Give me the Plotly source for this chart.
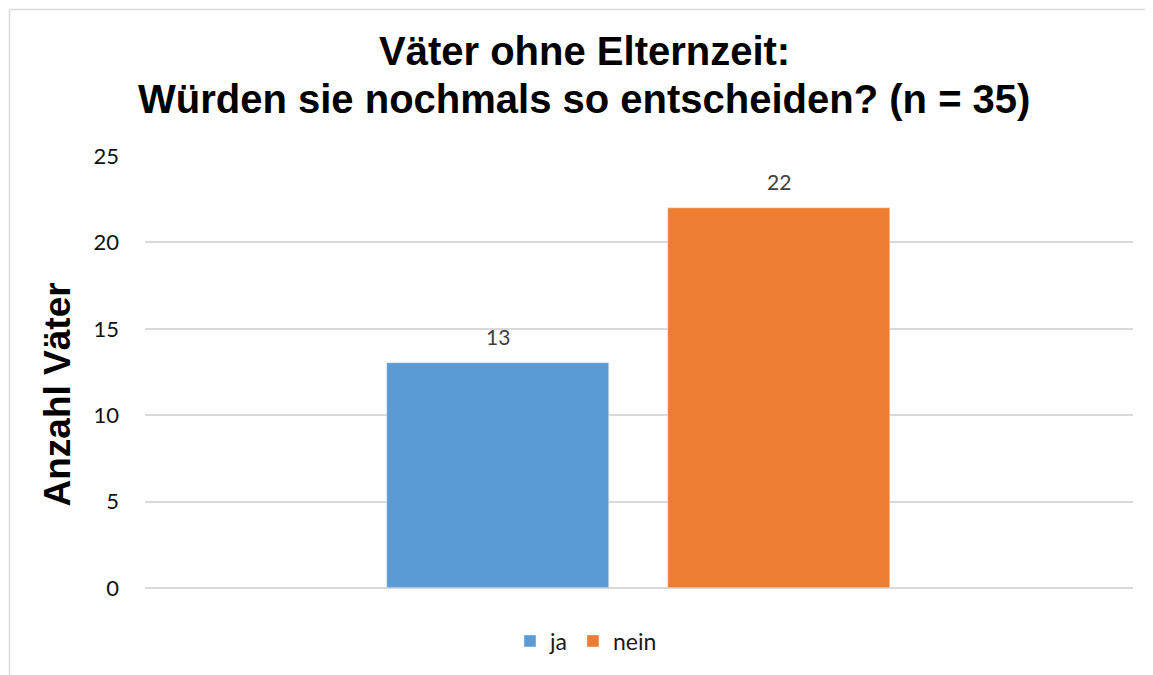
import plotly.graph_objects as go

categories = ["ja", "nein"]
values = [13, 22]
colors = ["#5B9BD5", "#ED7D31"]
title_lines = ["Väter ohne Elternzeit:", "Würden sie nochmals so entscheiden? (n = 35)"]
y_title = "Anzahl Väter"
y_ticks = [0, 5, 10, 15, 20, 25]

W, H = 1153, 675
OFF = 8  # browser body margin
# target plot area in page pixels: x 145..1133, y 156..588
ml = 145 - OFF
mt = 156 - OFF
pw, ph = 988, 432
mr = W - ml - pw
mb = H - mt - ph

def px_x(p):
    return (p - OFF - ml) / pw

def px_y(p):
    return (mt + ph - (p - OFF)) / ph

fig = go.Figure()
for i, (cat, val, col) in enumerate(zip(categories, values, colors)):
    fig.add_trace(go.Bar(x=[i], y=[val], name=cat, marker_color=col,
                         width=0.79, hoverinfo="skip"))
    fig.add_annotation(x=i, y=val, text=str(val), showarrow=False,
                       yanchor="bottom", yshift=12,
                       font=dict(family="Lato, Open Sans, sans-serif", size=21, color="#404040"))

for k, line in enumerate(title_lines):
    fig.add_annotation(xref="paper", yref="paper", x=px_x(584), y=px_y(51 + 48 * k),
                       text="<b>" + line + "</b>", showarrow=False,
                       xanchor="center", yanchor="middle",
                       font=dict(family="Liberation Sans, Arial, sans-serif", size=40, color="#000000"))

fig.add_annotation(xref="paper", yref="paper", x=px_x(57), y=px_y(394.5),
                   text="<b>" + y_title + "</b>", textangle=-90, showarrow=False,
                   xanchor="center", yanchor="middle",
                   font=dict(family="Liberation Sans, Arial, sans-serif", size=37, color="#000000"))

# chart-area border (only top and left edges fall inside the picture)
fig.add_shape(type="line", xref="paper", yref="paper",
              x0=px_x(9.5), x1=px_x(1300), y0=px_y(9.5), y1=px_y(9.5),
              line=dict(color="#D9D9D9", width=1.5), layer="below")
fig.add_shape(type="line", xref="paper", yref="paper",
              x0=px_x(9.5), x1=px_x(9.5), y0=px_y(9.5), y1=px_y(800),
              line=dict(color="#D9D9D9", width=1.5), layer="below")

x0 = -(498 - 145) / 281
x1 = (1133 - 498) / 281
fig.update_layout(
    width=W, height=H,
    margin=dict(l=ml, r=mr, t=mt, b=mb),
    paper_bgcolor="white", plot_bgcolor="white",
    showlegend=True,
    legend=dict(orientation="h", x=px_x(586), xanchor="center", y=px_y(641), yanchor="middle",
                font=dict(family="Lato, Open Sans, sans-serif", size=23, color="#1a1a1a"),
                itemwidth=30, traceorder="normal"),
    xaxis=dict(range=[x0, x1], showticklabels=False, showgrid=False, zeroline=False,
               showline=False, ticks=""),
    yaxis=dict(range=[0, 25], tickvals=y_ticks, showgrid=True, gridcolor="#D9D9D9",
               gridwidth=1.5, zeroline=True, zerolinecolor="#D9D9D9", zerolinewidth=1.5,
               showline=False, ticks="", ticklabelstandoff=25,
               tickfont=dict(family="Lato, Open Sans, sans-serif", size=22, color="#111111")),
    bargap=0,
)

fig.write_html("out.html")
